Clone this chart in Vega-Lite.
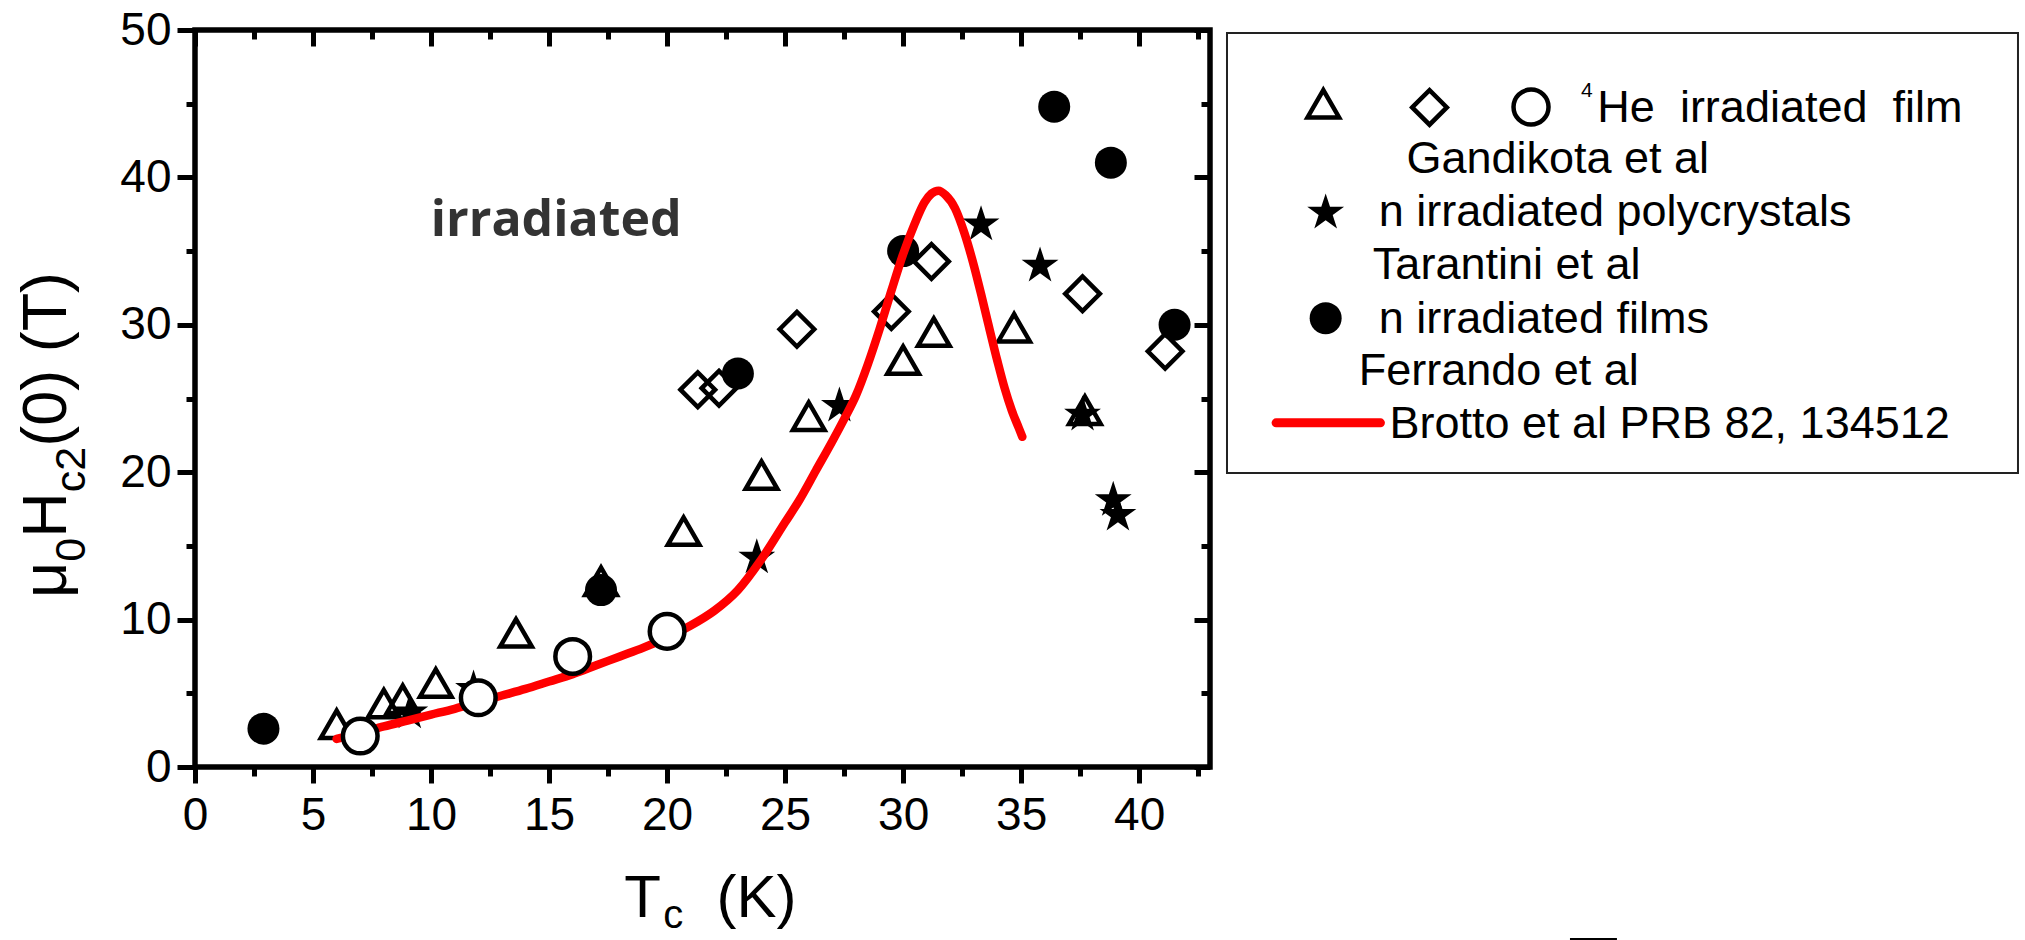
{
  "$schema": "https://vega.github.io/schema/vega-lite/v6.json",
  "width": 1015,
  "height": 737,
  "autosize": {"type": "none"},
  "padding": {"left": 195, "top": 30, "right": 815, "bottom": 173},
  "background": "white",
  "config": {
    "view": {"stroke": "black", "strokeWidth": 5.5},
    "axis": {"grid": false, "domain": false, "tickColor": "black", "tickWidth": 5, "labelFont": "Liberation Sans", "labelFontSize": 46, "labelColor": "black", "labelFlush": false, "labelOverlap": false, "labelBound": false},
    "text": {"font": "Liberation Sans", "color": "black"}
  },
  "datasets": {
    "points": [
      {"series": "Gandikota triangle", "T": 6.0, "H": 2.9},
      {"series": "Gandikota triangle", "T": 8.0, "H": 4.3},
      {"series": "Gandikota triangle", "T": 8.8, "H": 4.6},
      {"series": "Gandikota triangle", "T": 10.2, "H": 5.7},
      {"series": "Gandikota triangle", "T": 13.6, "H": 9.1},
      {"series": "Gandikota triangle", "T": 17.2, "H": 12.6},
      {"series": "Gandikota triangle", "T": 20.7, "H": 16.0},
      {"series": "Gandikota triangle", "T": 24.0, "H": 19.8},
      {"series": "Gandikota triangle", "T": 26.0, "H": 23.8},
      {"series": "Gandikota triangle", "T": 30.0, "H": 27.6},
      {"series": "Gandikota triangle", "T": 31.3, "H": 29.5},
      {"series": "Gandikota triangle", "T": 34.7, "H": 29.8},
      {"series": "Gandikota triangle", "T": 37.7, "H": 24.2},
      {"series": "Gandikota diamond", "T": 21.3, "H": 25.6},
      {"series": "Gandikota diamond", "T": 22.2, "H": 25.7},
      {"series": "Gandikota diamond", "T": 25.5, "H": 29.7},
      {"series": "Gandikota diamond", "T": 29.5, "H": 30.9},
      {"series": "Gandikota diamond", "T": 31.2, "H": 34.3},
      {"series": "Gandikota diamond", "T": 37.6, "H": 32.1},
      {"series": "Gandikota diamond", "T": 41.1, "H": 28.2},
      {"series": "Gandikota circle", "T": 7.0, "H": 2.1},
      {"series": "Gandikota circle", "T": 12.0, "H": 4.7},
      {"series": "Gandikota circle", "T": 16.0, "H": 7.5},
      {"series": "Gandikota circle", "T": 20.0, "H": 9.2},
      {"series": "Tarantini", "T": 9.1, "H": 3.7},
      {"series": "Tarantini", "T": 11.8, "H": 5.3},
      {"series": "Tarantini", "T": 23.8, "H": 14.2},
      {"series": "Tarantini", "T": 27.3, "H": 24.5},
      {"series": "Tarantini", "T": 33.3, "H": 36.8},
      {"series": "Tarantini", "T": 35.8, "H": 34.0},
      {"series": "Tarantini", "T": 37.6, "H": 23.9},
      {"series": "Tarantini", "T": 38.9, "H": 18.1},
      {"series": "Tarantini", "T": 39.1, "H": 17.1},
      {"series": "Ferrando", "T": 2.9, "H": 2.6},
      {"series": "Ferrando", "T": 17.2, "H": 12.0},
      {"series": "Ferrando", "T": 23.0, "H": 26.7},
      {"series": "Ferrando", "T": 30.0, "H": 35.0},
      {"series": "Ferrando", "T": 36.4, "H": 44.8},
      {"series": "Ferrando", "T": 38.8, "H": 41.0},
      {"series": "Ferrando", "T": 41.5, "H": 30.0}
    ],
    "brotto": [
      {"T": 6.0, "H": 1.9}, {"T": 7, "H": 2.3}, {"T": 8, "H": 2.75}, {"T": 9, "H": 3.15},
      {"T": 10, "H": 3.55}, {"T": 11, "H": 3.95}, {"T": 12, "H": 4.4}, {"T": 13, "H": 4.85},
      {"T": 14, "H": 5.3}, {"T": 15, "H": 5.8}, {"T": 16, "H": 6.3}, {"T": 17, "H": 6.9},
      {"T": 18, "H": 7.5}, {"T": 19, "H": 8.1}, {"T": 20, "H": 8.8}, {"T": 21, "H": 9.6},
      {"T": 22, "H": 10.6}, {"T": 23, "H": 12.0}, {"T": 24, "H": 14.1}, {"T": 25, "H": 16.6},
      {"T": 25.6, "H": 18.1}, {"T": 26.3, "H": 20.1}, {"T": 27, "H": 22.1}, {"T": 27.5, "H": 23.6},
      {"T": 28, "H": 25.2}, {"T": 28.5, "H": 27.3}, {"T": 29, "H": 29.7}, {"T": 29.5, "H": 32.3},
      {"T": 30, "H": 34.8}, {"T": 30.5, "H": 36.9}, {"T": 30.9, "H": 38.3}, {"T": 31.2, "H": 38.9},
      {"T": 31.5, "H": 39.1}, {"T": 31.8, "H": 38.8}, {"T": 32.2, "H": 37.9}, {"T": 32.6, "H": 36.2},
      {"T": 33, "H": 34.0}, {"T": 33.3, "H": 32.1}, {"T": 33.6, "H": 30.1}, {"T": 34, "H": 27.5},
      {"T": 34.3, "H": 25.7}, {"T": 34.6, "H": 24.2}, {"T": 34.9, "H": 23.0}, {"T": 35.05, "H": 22.4}
    ],
    "legendbox": [{"x": 43.72, "x2": 77.23, "y": 19.95, "y2": 49.8}],
    "legendsym": [
      {"sym": "triangle", "x": 47.8, "y": 45.0},
      {"sym": "diamond", "x": 52.3, "y": 44.75},
      {"sym": "circle", "x": 56.6, "y": 44.77},
      {"sym": "star", "x": 47.9, "y": 37.6},
      {"sym": "dot", "x": 47.9, "y": 30.45}
    ],
    "legendline": [{"x": 45.8, "y": 23.35}, {"x": 50.22, "y": 23.35}],
    "legendtext": [
      {"x": 59.41, "y": 43.75, "t": "He\u00a0 irradiated\u00a0 film"},
      {"x": 51.32, "y": 40.32, "t": "Gandikota et al"},
      {"x": 50.15, "y": 36.69, "t": "n irradiated polycrystals"},
      {"x": 49.9, "y": 33.08, "t": "Tarantini et al"},
      {"x": 50.15, "y": 29.46, "t": "n irradiated films"},
      {"x": 49.3, "y": 25.91, "t": "Ferrando et al"},
      {"x": 50.6, "y": 22.34, "t": "Brotto et al PRB 82, 134512"}
    ],
    "legendsup": [{"x": 58.72, "y": 45.45, "t": "4"}],
    "note": [{"x": 15.3, "y": 36.01, "t": "irradiated"}],
    "ytitle": [
      {"x": -5.45, "y": 11.47, "t": "μ"},
      {"x": -5.45, "y": 15.55, "t": "H"},
      {"x": -5.45, "y": 21.72, "t": "(0) (T)"}
    ],
    "ytitlesub": [
      {"x": -4.66, "y": 13.93, "t": "0"},
      {"x": -4.66, "y": 18.64, "t": "c2"}
    ],
    "xtitle": [
      {"x": 18.19, "y": -10.18, "t": "T"},
      {"x": 22.09, "y": -10.18, "t": "(K)"}
    ],
    "xtitlesub": [{"x": 19.84, "y": -10.95, "t": "c"}],
    "edge": [{"x": 58.25, "x2": 60.24, "y": -11.67}]
  },
  "resolve": {"axis": {"x": "independent", "y": "independent"}},
  "layer": [
    {
      "data": {"name": "points"},
      "transform": [{"filter": "datum.series === 'Gandikota triangle'"}],
      "mark": {"type": "point", "shape": "triangle-up", "size": 1000, "filled": false, "stroke": "black", "strokeWidth": 4.5, "opacity": 1},
      "encoding": {
        "x": {"field": "T", "type": "quantitative", "scale": {"domain": [0, 43], "nice": false, "zero": false},
          "axis": {"orient": "bottom", "values": [0, 5, 10, 15, 20, 25, 30, 35, 40], "tickSize": 16, "labelPadding": 10, "title": null}},
        "y": {"field": "H", "type": "quantitative", "scale": {"domain": [0, 50], "nice": false, "zero": false},
          "axis": {"orient": "left", "values": [0, 10, 20, 30, 40, 50], "tickSize": 18, "labelPadding": 6, "title": null}}
      }
    },
    {
      "data": {"name": "points"},
      "transform": [{"filter": "datum.series === 'Gandikota diamond'"}],
      "mark": {"type": "point", "shape": "diamond", "size": 1200, "filled": false, "stroke": "black", "strokeWidth": 4.5, "opacity": 1},
      "encoding": {
        "x": {"field": "T", "type": "quantitative", "scale": {"domain": [0, 43], "nice": false, "zero": false},
          "axis": {"orient": "bottom", "values": [2.5, 7.5, 12.5, 17.5, 22.5, 27.5, 32.5, 37.5, 42.5], "tickSize": 9, "labels": false, "title": null}},
        "y": {"field": "H", "type": "quantitative", "scale": {"domain": [0, 50], "nice": false, "zero": false},
          "axis": {"orient": "left", "values": [5, 15, 25, 35, 45], "tickSize": 9, "labels": false, "title": null}}
      }
    },
    {
      "data": {"name": "points"},
      "transform": [{"filter": "datum.series === 'Tarantini'"}],
      "mark": {"type": "point", "shape": "M0,-1L0.2245,-0.309L0.951,-0.309L0.363,0.118L0.588,0.809L0,0.382L-0.588,0.809L-0.363,0.118L-0.951,-0.309L-0.2245,-0.309Z", "size": 1500, "filled": true, "fill": "black", "strokeWidth": 0, "opacity": 1},
      "encoding": {
        "x": {"field": "T", "type": "quantitative", "scale": {"domain": [0, 43], "nice": false, "zero": false},
          "axis": {"orient": "top", "values": [0, 5, 10, 15, 20, 25, 30, 35, 40], "tickSize": -16, "labels": false, "title": null}},
        "y": {"field": "H", "type": "quantitative", "scale": {"domain": [0, 50], "nice": false, "zero": false},
          "axis": {"orient": "right", "values": [0, 10, 20, 30, 40, 50], "tickSize": -16, "labels": false, "title": null}}
      }
    },
    {
      "data": {"name": "points"},
      "transform": [{"filter": "datum.series === 'Ferrando'"}],
      "mark": {"type": "point", "shape": "circle", "size": 1024, "filled": true, "fill": "black", "strokeWidth": 0, "opacity": 1},
      "encoding": {
        "x": {"field": "T", "type": "quantitative", "scale": {"domain": [0, 43], "nice": false, "zero": false},
          "axis": {"orient": "top", "values": [2.5, 7.5, 12.5, 17.5, 22.5, 27.5, 32.5, 37.5, 42.5], "tickSize": -9, "labels": false, "title": null}},
        "y": {"field": "H", "type": "quantitative", "scale": {"domain": [0, 50], "nice": false, "zero": false},
          "axis": {"orient": "right", "values": [5, 15, 25, 35, 45], "tickSize": -9, "labels": false, "title": null}}
      }
    },
    {
      "data": {"name": "brotto"},
      "mark": {"type": "line", "color": "#ff0000", "strokeWidth": 8.5, "strokeCap": "round", "strokeJoin": "round", "interpolate": "monotone"},
      "encoding": {
        "x": {"field": "T", "type": "quantitative", "scale": {"domain": [0, 43], "nice": false, "zero": false}, "axis": null},
        "y": {"field": "H", "type": "quantitative", "scale": {"domain": [0, 50], "nice": false, "zero": false}, "axis": null}
      }
    },
    {
      "data": {"name": "points"},
      "transform": [{"filter": "datum.series === 'Gandikota circle'"}],
      "mark": {"type": "point", "shape": "circle", "size": 1200, "filled": true, "fill": "white", "stroke": "black", "strokeWidth": 4.5, "opacity": 1},
      "encoding": {
        "x": {"field": "T", "type": "quantitative", "scale": {"domain": [0, 43], "nice": false, "zero": false}, "axis": null},
        "y": {"field": "H", "type": "quantitative", "scale": {"domain": [0, 50], "nice": false, "zero": false}, "axis": null}
      }
    },
    {
      "data": {"name": "legendbox"},
      "mark": {"type": "rect", "fill": null, "fillOpacity": 0, "stroke": "#222222", "strokeWidth": 2},
      "encoding": {
        "x": {"field": "x", "type": "quantitative", "scale": {"domain": [0, 43], "nice": false, "zero": false}, "axis": null},
        "x2": {"field": "x2"},
        "y": {"field": "y", "type": "quantitative", "scale": {"domain": [0, 50], "nice": false, "zero": false}, "axis": null},
        "y2": {"field": "y2"}
      }
    },
    {
      "data": {"name": "legendsym"},
      "transform": [{"filter": "datum.sym === 'triangle'"}],
      "mark": {"type": "point", "shape": "triangle-up", "size": 1000, "filled": false, "stroke": "black", "strokeWidth": 4.5, "opacity": 1},
      "encoding": {
        "x": {"field": "x", "type": "quantitative", "scale": {"domain": [0, 43], "nice": false, "zero": false}, "axis": null},
        "y": {"field": "y", "type": "quantitative", "scale": {"domain": [0, 50], "nice": false, "zero": false}, "axis": null}
      }
    },
    {
      "data": {"name": "legendsym"},
      "transform": [{"filter": "datum.sym === 'diamond'"}],
      "mark": {"type": "point", "shape": "diamond", "size": 1200, "filled": false, "stroke": "black", "strokeWidth": 4.5, "opacity": 1},
      "encoding": {
        "x": {"field": "x", "type": "quantitative", "scale": {"domain": [0, 43], "nice": false, "zero": false}, "axis": null},
        "y": {"field": "y", "type": "quantitative", "scale": {"domain": [0, 50], "nice": false, "zero": false}, "axis": null}
      }
    },
    {
      "data": {"name": "legendsym"},
      "transform": [{"filter": "datum.sym === 'circle'"}],
      "mark": {"type": "point", "shape": "circle", "size": 1225, "filled": true, "fill": "white", "stroke": "black", "strokeWidth": 4.5, "opacity": 1},
      "encoding": {
        "x": {"field": "x", "type": "quantitative", "scale": {"domain": [0, 43], "nice": false, "zero": false}, "axis": null},
        "y": {"field": "y", "type": "quantitative", "scale": {"domain": [0, 50], "nice": false, "zero": false}, "axis": null}
      }
    },
    {
      "data": {"name": "legendsym"},
      "transform": [{"filter": "datum.sym === 'star'"}],
      "mark": {"type": "point", "shape": "M0,-1L0.2245,-0.309L0.951,-0.309L0.363,0.118L0.588,0.809L0,0.382L-0.588,0.809L-0.363,0.118L-0.951,-0.309L-0.2245,-0.309Z", "size": 1500, "filled": true, "fill": "black", "strokeWidth": 0, "opacity": 1},
      "encoding": {
        "x": {"field": "x", "type": "quantitative", "scale": {"domain": [0, 43], "nice": false, "zero": false}, "axis": null},
        "y": {"field": "y", "type": "quantitative", "scale": {"domain": [0, 50], "nice": false, "zero": false}, "axis": null}
      }
    },
    {
      "data": {"name": "legendsym"},
      "transform": [{"filter": "datum.sym === 'dot'"}],
      "mark": {"type": "point", "shape": "circle", "size": 1024, "filled": true, "fill": "black", "strokeWidth": 0, "opacity": 1},
      "encoding": {
        "x": {"field": "x", "type": "quantitative", "scale": {"domain": [0, 43], "nice": false, "zero": false}, "axis": null},
        "y": {"field": "y", "type": "quantitative", "scale": {"domain": [0, 50], "nice": false, "zero": false}, "axis": null}
      }
    },
    {
      "data": {"name": "legendline"},
      "mark": {"type": "line", "color": "#ff0000", "strokeWidth": 9, "strokeCap": "round"},
      "encoding": {
        "x": {"field": "x", "type": "quantitative", "scale": {"domain": [0, 43], "nice": false, "zero": false}, "axis": null},
        "y": {"field": "y", "type": "quantitative", "scale": {"domain": [0, 50], "nice": false, "zero": false}, "axis": null}
      }
    },
    {
      "data": {"name": "legendtext"},
      "mark": {"type": "text", "align": "left", "baseline": "alphabetic", "fontSize": 45, "font": "Liberation Sans", "color": "black"},
      "encoding": {
        "x": {"field": "x", "type": "quantitative", "scale": {"domain": [0, 43], "nice": false, "zero": false}, "axis": null},
        "y": {"field": "y", "type": "quantitative", "scale": {"domain": [0, 50], "nice": false, "zero": false}, "axis": null},
        "text": {"field": "t"}
      }
    },
    {
      "data": {"name": "legendsup"},
      "mark": {"type": "text", "align": "left", "baseline": "alphabetic", "fontSize": 21, "font": "Liberation Sans", "color": "black"},
      "encoding": {
        "x": {"field": "x", "type": "quantitative", "scale": {"domain": [0, 43], "nice": false, "zero": false}, "axis": null},
        "y": {"field": "y", "type": "quantitative", "scale": {"domain": [0, 50], "nice": false, "zero": false}, "axis": null},
        "text": {"field": "t"}
      }
    },
    {
      "data": {"name": "note"},
      "mark": {"type": "text", "align": "center", "baseline": "alphabetic", "fontSize": 50, "font": "Open Sans", "fontWeight": "bold", "color": "#333333"},
      "encoding": {
        "x": {"field": "x", "type": "quantitative", "scale": {"domain": [0, 43], "nice": false, "zero": false}, "axis": null},
        "y": {"field": "y", "type": "quantitative", "scale": {"domain": [0, 50], "nice": false, "zero": false}, "axis": null},
        "text": {"field": "t"}
      }
    },
    {
      "data": {"name": "ytitle"},
      "mark": {"type": "text", "align": "left", "baseline": "alphabetic", "angle": 270, "fontSize": 63, "font": "Liberation Sans", "color": "black"},
      "encoding": {
        "x": {"field": "x", "type": "quantitative", "scale": {"domain": [0, 43], "nice": false, "zero": false}, "axis": null},
        "y": {"field": "y", "type": "quantitative", "scale": {"domain": [0, 50], "nice": false, "zero": false}, "axis": null},
        "text": {"field": "t"}
      }
    },
    {
      "data": {"name": "ytitlesub"},
      "mark": {"type": "text", "align": "left", "baseline": "alphabetic", "angle": 270, "fontSize": 43, "font": "Liberation Sans", "color": "black"},
      "encoding": {
        "x": {"field": "x", "type": "quantitative", "scale": {"domain": [0, 43], "nice": false, "zero": false}, "axis": null},
        "y": {"field": "y", "type": "quantitative", "scale": {"domain": [0, 50], "nice": false, "zero": false}, "axis": null},
        "text": {"field": "t"}
      }
    },
    {
      "data": {"name": "xtitle"},
      "mark": {"type": "text", "align": "left", "baseline": "alphabetic", "fontSize": 60, "font": "Liberation Sans", "color": "black"},
      "encoding": {
        "x": {"field": "x", "type": "quantitative", "scale": {"domain": [0, 43], "nice": false, "zero": false}, "axis": null},
        "y": {"field": "y", "type": "quantitative", "scale": {"domain": [0, 50], "nice": false, "zero": false}, "axis": null},
        "text": {"field": "t"}
      }
    },
    {
      "data": {"name": "xtitlesub"},
      "mark": {"type": "text", "align": "left", "baseline": "alphabetic", "fontSize": 40, "font": "Liberation Sans", "color": "black"},
      "encoding": {
        "x": {"field": "x", "type": "quantitative", "scale": {"domain": [0, 43], "nice": false, "zero": false}, "axis": null},
        "y": {"field": "y", "type": "quantitative", "scale": {"domain": [0, 50], "nice": false, "zero": false}, "axis": null},
        "text": {"field": "t"}
      }
    },
    {
      "data": {"name": "edge"},
      "mark": {"type": "rule", "color": "black", "strokeWidth": 2},
      "encoding": {
        "x": {"field": "x", "type": "quantitative", "scale": {"domain": [0, 43], "nice": false, "zero": false}, "axis": null},
        "x2": {"field": "x2"},
        "y": {"field": "y", "type": "quantitative", "scale": {"domain": [0, 50], "nice": false, "zero": false}, "axis": null}
      }
    }
  ]
}
